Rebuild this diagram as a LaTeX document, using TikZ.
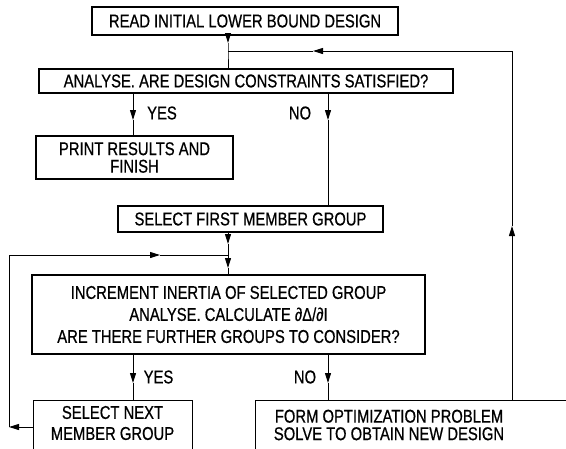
\documentclass[tikz,border=0pt]{standalone}
\usepackage{fontspec}
\setmainfont{Liberation Sans}[FakeStretch=0.8,FakeBold=0.6]
\usetikzlibrary{arrows.meta}
\tikzset{
  box/.style={draw, line width=1.3pt, fill=white, inner sep=0pt, align=center},
  txt/.style={inner sep=0pt, align=center},
  ln/.style={line width=1pt},
  arr/.style={line width=1pt, -{Triangle[length=10pt,width=6pt]}},
}
\begin{document}
\begin{tikzpicture}[x=1pt,y=-1pt,font=\fontsize{18.5}{22}\selectfont]
\useasboundingbox (0,0) rectangle (566,448);
\clip (0,0) rectangle (566,448);
% boxes
\node[box, minimum width=306pt, minimum height=28pt] (b1) at (245,21) {READ INITIAL LOWER BOUND DESIGN};
\node[box, minimum width=414pt, minimum height=24pt] (b2) at (246,81) {ANALYSE. ARE DESIGN CONSTRAINTS SATISFIED?};
\node[box, minimum width=197pt, minimum height=43pt, font=\fontsize{18.5}{17.5}\selectfont] (b3) at (134.5,157.5) {PRINT RESULTS AND\\FINISH};
\node[box, minimum width=265pt, minimum height=26pt] (b4) at (250.5,219) {SELECT FIRST MEMBER GROUP};
\node[box, minimum width=393pt, minimum height=79pt] (b5) at (228.5,314.5) {INCREMENT INERTIA OF SELECTED GROUP\\ANALYSE. CALCULATE ∂Δ/∂I\\ARE THERE FURTHER GROUPS TO CONSIDER?};
\node[box, minimum width=159pt, minimum height=60pt, anchor=north west] (b6) at (33,400) {};
\node[txt, font=\fontsize{18.5}{21}\selectfont] (t6) at (112.5,423) {SELECT NEXT\\MEMBER GROUP};
\node[box, minimum width=330pt, minimum height=60pt, anchor=north west] (b7) at (255,400) {};
\node[txt, font=\fontsize{18.5}{17.5}\selectfont] (t7) at (389,425) {FORM OPTIMIZATION PROBLEM\\SOLVE TO OBTAIN NEW DESIGN};
% labels
\node[txt] (y1) at (162,113) {YES};
\node[txt] (n1) at (300,113) {NO};
\node[txt] (y2) at (158.5,377) {YES};
\node[txt] (n2) at (305,377) {NO};
% coordinates
\coordinate (j1) at (228,51);
\coordinate (a1) at (228,43);
\coordinate (r1) at (512,400);
\coordinate (r2) at (512,226);
\coordinate (r3) at (512,51);
\coordinate (r4) at (313,51);
\coordinate (ya) at (133,120);
\coordinate (na) at (328,120);
\coordinate (a2) at (228,244);
\coordinate (j2) at (228,255);
\coordinate (a3) at (228,268);
\coordinate (l1) at (9,427);
\coordinate (l2) at (9,255);
\coordinate (l3) at (160,255);
\coordinate (yb) at (133,383);
\coordinate (nb) at (328,383);
% connectors
\draw[arr] (b1.south -| a1) -- (a1);
\draw[ln] (a1) -- (j1) -- (b2.north -| j1);
\draw[arr] (r1) -- (r2);
\draw[ln] (r2) -- (r3);
\draw[arr] (r3) -- (r4);
\draw[ln] (r4) -- (j1);
\draw[arr] (b2.south -| ya) -- (ya);
\draw[ln] (ya) -- (b3.north -| ya);
\draw[arr] (b2.south -| na) -- (na);
\draw[ln] (na) -- (b4.north -| na);
\draw[arr] (b4.south -| a2) -- (a2);
\draw[ln] (a2) -- (j2);
\draw[arr] (j2) -- (a3);
\draw[ln] (a3) -- (b5.north -| a3);
\draw[arr] (b6.west |- l1) -- (l1);
\draw[ln] (l1) -- (l2);
\draw[arr] (l2) -- (l3);
\draw[ln] (l3) -- (j2);
\draw[arr] (b5.south -| yb) -- (yb);
\draw[ln] (yb) -- (b6.north -| yb);
\draw[arr] (b5.south -| nb) -- (nb);
\draw[ln] (nb) -- (b7.north -| nb);
\end{tikzpicture}
\end{document}
